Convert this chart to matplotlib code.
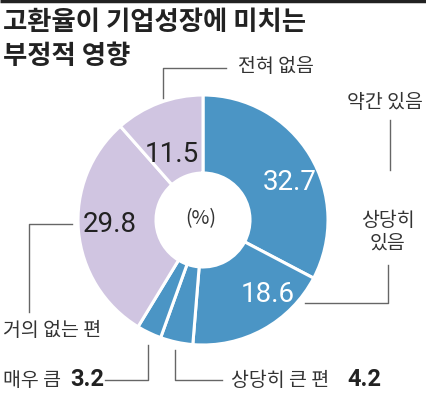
import matplotlib
matplotlib.use("Agg")
import matplotlib.pyplot as plt

plt.rcParams['font.family'] = ['Noto Sans CJK KR', 'DejaVu Sans']

# 데이터 (시계방향, 12시 방향부터)
categories = ['약간 있음', '상당히\n있음', '상당히 큰 편', '매우 큼', '거의 없는 편', '전혀 없음']
values = [32.7, 18.6, 4.2, 3.2, 29.8, 11.5]
colors = ['#4b95c5'] * 4 + ['#d0c5e1'] * 2

W, H = 427, 395
fig = plt.figure(figsize=(W / 100, H / 100), dpi=100)
ax = fig.add_axes([0, 0, 1, 1])

def py(y):
    # 픽셀 좌표(위에서 아래로) -> 축 좌표
    return H - y

cx, cy, R = 203, py(220), 125
ax.pie(values, colors=colors, startangle=90, counterclock=False,
       center=(cx, cy), radius=R,
       wedgeprops=dict(width=R - 47, edgecolor='white', linewidth=2.2))
ax.set_xlim(0, W)
ax.set_ylim(0, H)
ax.set_aspect('equal')
ax.axis('off')

# 상단 테두리
ax.plot([0, W], [py(1), py(1)], color='#222222', lw=2.5, solid_capstyle='butt')

# 제목
title_kw = dict(fontsize=19, fontweight='bold', color='#222222', va='center', ha='left')
ax.text(3, py(23), '고환율이 기업성장에 미치는', **title_kw)
ax.text(3, py(56), '부정적 영향', **title_kw)

num_font = ['Roboto', 'DejaVu Sans']
lbl = dict(fontsize=14, color='#333333')
line = dict(color='#666666', lw=1)

# 조각 안 수치
ax.text(290, py(183), f'{values[0]}', fontsize=20, color='white', ha='center', va='center', family=num_font)
ax.text(268, py(295), f'{values[1]}', fontsize=20, color='white', ha='center', va='center', family=num_font)
ax.text(110, py(225), f'{values[4]}', fontsize=20, color='#222222', ha='center', va='center', family=num_font)
ax.text(172, py(155), f'{values[5]}', fontsize=20, color='#222222', ha='center', va='center', family=num_font)
ax.text(201, py(219), '(%)', fontsize=14, color='#333333', ha='center', va='center')

# 약간 있음
ax.text(385, py(103), categories[0], ha='center', va='center', **lbl)
ax.plot([390, 390], [py(120), py(170)], **line)

# 상당히 있음
ax.text(388, py(232), categories[1], ha='center', va='center', linespacing=1.1, **lbl)
ax.plot([388, 388, 305], [py(265), py(303), py(303)], **line)

# 상당히 큰 편
ax.plot([175, 175, 222], [py(350), py(380), py(380)], **line)
ax.text(231, py(380), categories[2], ha='left', va='center', **lbl)
ax.text(347, py(379), f'{values[2]}', ha='left', va='center', fontsize=17, fontweight='bold',
        color='#222222', family=num_font)

# 매우 큼
ax.text(3, py(380), categories[3], ha='left', va='center', **lbl)
ax.text(70, py(379), f'{values[3]}', ha='left', va='center', fontsize=17, fontweight='bold',
        color='#222222', family=num_font)
ax.plot([105, 148, 148], [py(380), py(380), py(345)], **line)

# 거의 없는 편
ax.text(3, py(330), categories[4], ha='left', va='center', **lbl)
ax.plot([72, 29, 29], [py(224), py(224), py(312)], **line)

# 전혀 없음
ax.text(238, py(67), categories[5], ha='left', va='center', **lbl)
ax.plot([163, 163, 226], [py(98), py(68), py(68)], **line)

fig.savefig('out.png', dpi=100)
